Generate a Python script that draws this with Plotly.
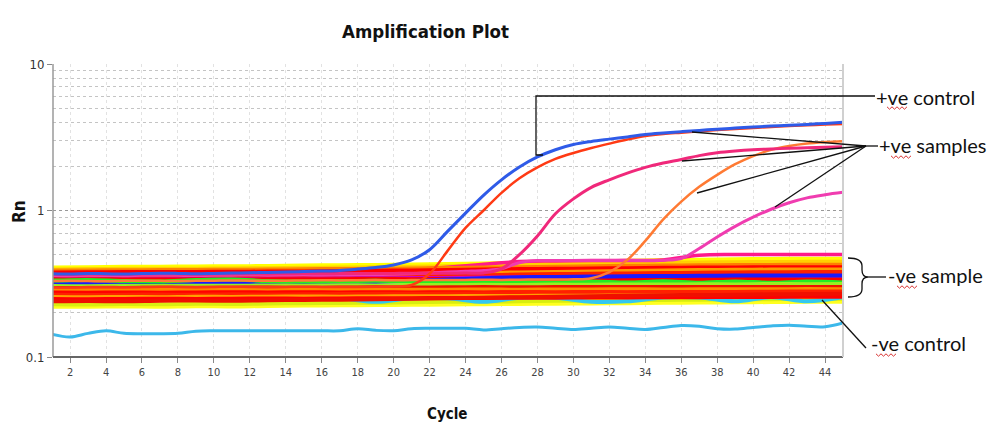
import plotly.graph_objects as go

# ---------------- data ----------------
cycles = list(range(1, 46))
cycles_odd = list(range(1, 46, 2))

x_tick_vals = list(range(2, 45, 2))
y_tick_vals = [0.1, 1, 10]
y_tick_text = ["0.1", "1", "10"]
y_minor_vals = [0.2, 0.3, 0.4, 0.5, 0.6, 0.7, 0.8, 0.9, 2, 3, 4, 5, 6, 7, 8, 9]

# negative control (light blue), one value per cycle
neg_control = [0.143, 0.137, 0.145, 0.151, 0.145, 0.144, 0.144, 0.145, 0.150, 0.151,
               0.151, 0.151, 0.151, 0.151, 0.151, 0.151, 0.151, 0.156, 0.152, 0.151,
               0.156, 0.157, 0.157, 0.157, 0.153, 0.156, 0.159, 0.160, 0.157, 0.154,
               0.157, 0.160, 0.157, 0.154, 0.159, 0.164, 0.162, 0.156, 0.155, 0.159,
               0.163, 0.165, 0.162, 0.161, 0.171]

# positive control (blue)
pos_control = [0.370, 0.368, 0.372, 0.370, 0.368, 0.371, 0.373, 0.372, 0.370, 0.372,
               0.374, 0.376, 0.378, 0.380, 0.383, 0.386, 0.390, 0.398, 0.408, 0.425,
               0.460, 0.540, 0.720, 0.960, 1.270, 1.620, 1.980, 2.320, 2.600, 2.820,
               2.960, 3.070, 3.180, 3.300, 3.380, 3.450, 3.520, 3.590, 3.650, 3.710,
               3.770, 3.820, 3.870, 3.930, 4.000]

# positive samples
pos_sample_1 = [0.300, 0.298, 0.300, 0.301, 0.299, 0.300, 0.302, 0.301, 0.300, 0.301,
                0.302, 0.301, 0.300, 0.301, 0.302, 0.301, 0.300, 0.301, 0.302, 0.303,
                0.310, 0.370, 0.530, 0.760, 1.000, 1.320, 1.660, 1.970, 2.250, 2.470,
                2.670, 2.860, 3.050, 3.220, 3.330, 3.400, 3.470, 3.540, 3.600, 3.660,
                3.720, 3.770, 3.820, 3.860, 3.900]
pos_sample_2 = [0.367, 0.366, 0.368, 0.367, 0.366, 0.368, 0.369, 0.368, 0.367, 0.368,
                0.369, 0.370, 0.369, 0.370, 0.371, 0.370, 0.371, 0.372, 0.371, 0.372,
                0.373, 0.372, 0.373, 0.374, 0.375, 0.400, 0.500, 0.670, 0.950, 1.200,
                1.440, 1.620, 1.800, 1.970, 2.110, 2.230, 2.370, 2.480, 2.550, 2.600,
                2.630, 2.660, 2.680, 2.700, 2.720]
pos_sample_3 = [0.330, 0.331, 0.330, 0.329, 0.331, 0.332, 0.331, 0.330, 0.331, 0.332,
                0.333, 0.332, 0.331, 0.332, 0.333, 0.334, 0.333, 0.334, 0.335, 0.334,
                0.335, 0.336, 0.335, 0.336, 0.337, 0.336, 0.337, 0.338, 0.338, 0.339,
                0.345, 0.380, 0.460, 0.620, 0.870, 1.150, 1.450, 1.750, 2.070, 2.350,
                2.600, 2.760, 2.870, 2.930, 2.970]
pos_sample_4 = [0.360, 0.359, 0.361, 0.360, 0.359, 0.361, 0.362, 0.361, 0.360, 0.361,
                0.362, 0.363, 0.362, 0.363, 0.364, 0.363, 0.364, 0.365, 0.366, 0.367,
                0.370, 0.375, 0.380, 0.385, 0.390, 0.400, 0.440, 0.455, 0.455, 0.456,
                0.455, 0.456, 0.457, 0.456, 0.458, 0.470, 0.550, 0.660, 0.780, 0.900,
                1.020, 1.130, 1.220, 1.280, 1.330]

# negative samples, one value per odd cycle (1, 3, ..., 45)
neg_yellow_bottom = [0.222, 0.222, 0.223, 0.222, 0.224, 0.223, 0.225, 0.226, 0.227, 0.228, 0.229, 0.230,
                     0.231, 0.232, 0.233, 0.234, 0.235, 0.236, 0.237, 0.238, 0.239, 0.240, 0.240]
neg_yellowgreen = [0.229, 0.228, 0.230, 0.229, 0.231, 0.230, 0.232, 0.233, 0.234, 0.235, 0.236, 0.238,
                   0.239, 0.240, 0.242, 0.243, 0.244, 0.245, 0.246, 0.247, 0.248, 0.249, 0.250]
neg_cyan = [0.252, 0.252, 0.252, 0.252, 0.252, 0.252, 0.252, 0.252, 0.252, 0.238, 0.252, 0.252,
            0.238, 0.254, 0.254, 0.238, 0.240, 0.255, 0.255, 0.240, 0.256, 0.240, 0.256]
neg_yellow_top = [0.405, 0.407, 0.410, 0.410, 0.412, 0.413, 0.415, 0.418, 0.420, 0.421, 0.424, 0.428,
                  0.432, 0.436, 0.440, 0.445, 0.450, 0.455, 0.458, 0.461, 0.463, 0.465, 0.465]
neg_gold = [0.396, 0.398, 0.400, 0.400, 0.401, 0.402, 0.404, 0.406, 0.408, 0.410, 0.413, 0.416,
            0.420, 0.424, 0.428, 0.432, 0.436, 0.440, 0.442, 0.444, 0.445, 0.446, 0.446]
neg_magenta = [0.367, 0.366, 0.368, 0.370, 0.369, 0.370, 0.372, 0.375, 0.380, 0.386, 0.395, 0.410,
               0.430, 0.448, 0.452, 0.455, 0.456, 0.460, 0.495, 0.500, 0.500, 0.500, 0.500]
neg_orange_a = [0.390, 0.390, 0.391, 0.392, 0.393, 0.394, 0.395, 0.397, 0.399, 0.400, 0.402, 0.405,
                0.408, 0.410, 0.413, 0.416, 0.419, 0.421, 0.423, 0.424, 0.425, 0.426, 0.426]
neg_red_a = [0.378, 0.379, 0.380, 0.380, 0.381, 0.382, 0.383, 0.384, 0.386, 0.388, 0.390, 0.392,
             0.395, 0.398, 0.400, 0.402, 0.404, 0.406, 0.408, 0.409, 0.410, 0.410, 0.410]
neg_white = [0.356, 0.357, 0.357, 0.356, 0.355, 0.357, 0.358, 0.357, 0.356, 0.357, 0.358, 0.360,
             0.362, 0.363, 0.364, 0.365, 0.366, 0.368, 0.370, 0.371, 0.372, 0.372, 0.372]
neg_orange_b = [0.350, 0.351, 0.352, 0.352, 0.353, 0.355, 0.357, 0.360, 0.362, 0.365, 0.368, 0.372,
                0.375, 0.378, 0.381, 0.384, 0.387, 0.390, 0.392, 0.394, 0.395, 0.395, 0.395]
neg_red_b = [0.345, 0.344, 0.345, 0.346, 0.347, 0.348, 0.350, 0.352, 0.354, 0.356, 0.358, 0.360,
             0.362, 0.365, 0.368, 0.370, 0.372, 0.374, 0.376, 0.378, 0.379, 0.380, 0.380]
neg_purple = [0.340, 0.339, 0.340, 0.341, 0.342, 0.342, 0.343, 0.344, 0.345, 0.346, 0.347, 0.348,
              0.350, 0.351, 0.352, 0.353, 0.354, 0.355, 0.355, 0.356, 0.356, 0.357, 0.357]
neg_red_c = [0.338, 0.337, 0.338, 0.338, 0.339, 0.338, 0.339, 0.340, 0.340, 0.341, 0.340, 0.341,
             0.340, 0.341, 0.340, 0.341, 0.340, 0.340, 0.340, 0.341, 0.340, 0.340, 0.340]
neg_blue = [0.318, 0.316, 0.320, 0.315, 0.318, 0.322, 0.318, 0.316, 0.320, 0.325, 0.330, 0.338,
            0.345, 0.350, 0.352, 0.354, 0.356, 0.357, 0.358, 0.360, 0.360, 0.360, 0.360]
neg_green = [0.332, 0.336, 0.330, 0.328, 0.335, 0.338, 0.330, 0.327, 0.330, 0.332, 0.328, 0.326,
             0.330, 0.325, 0.322, 0.328, 0.322, 0.329, 0.321, 0.328, 0.321, 0.327, 0.322]
neg_lime = [0.305, 0.304, 0.306, 0.305, 0.307, 0.306, 0.308, 0.307, 0.309, 0.308, 0.310, 0.309,
            0.311, 0.310, 0.312, 0.311, 0.313, 0.312, 0.314, 0.313, 0.315, 0.314, 0.315]
neg_red_d = [0.296, 0.295, 0.296, 0.297, 0.296, 0.297, 0.298, 0.297, 0.298, 0.299, 0.298, 0.299,
             0.300, 0.299, 0.300, 0.300, 0.301, 0.300, 0.301, 0.300, 0.301, 0.300, 0.301]
neg_orange_c = [0.286, 0.285, 0.286, 0.287, 0.286, 0.287, 0.286, 0.287, 0.288, 0.287, 0.288, 0.288,
                0.289, 0.288, 0.289, 0.289, 0.290, 0.289, 0.290, 0.290, 0.290, 0.291, 0.290]
neg_red_e = [0.276, 0.275, 0.276, 0.275, 0.276, 0.277, 0.276, 0.277, 0.276, 0.277, 0.276, 0.277,
             0.276, 0.277, 0.276, 0.277, 0.276, 0.277, 0.276, 0.277, 0.276, 0.277, 0.276]
neg_red_f = [0.266, 0.265, 0.266, 0.267, 0.266, 0.268, 0.267, 0.268, 0.269, 0.270, 0.270, 0.271,
             0.272, 0.273, 0.274, 0.275, 0.276, 0.277, 0.278, 0.278, 0.279, 0.280, 0.280]
neg_orange_d = [0.257, 0.256, 0.257, 0.256, 0.258, 0.257, 0.258, 0.259, 0.258, 0.259, 0.260, 0.260,
                0.261, 0.261, 0.262, 0.262, 0.263, 0.263, 0.264, 0.264, 0.265, 0.265, 0.265]
neg_red_g = [0.249, 0.248, 0.249, 0.250, 0.249, 0.250, 0.251, 0.250, 0.251, 0.252, 0.252, 0.253,
             0.253, 0.254, 0.254, 0.255, 0.255, 0.256, 0.256, 0.257, 0.257, 0.258, 0.258]
neg_red_h = [0.240, 0.241, 0.240, 0.242, 0.243, 0.242, 0.244, 0.245, 0.246, 0.248, 0.250, 0.252,
             0.254, 0.256, 0.258, 0.260, 0.262, 0.264, 0.265, 0.266, 0.268, 0.269, 0.270]

# ---------------- figure ----------------
NARROW = "Liberation Sans Narrow, DejaVu Sans Condensed, Roboto Condensed, Roboto, sans-serif"
LABEL_FONT = "Lato, Open Sans, sans-serif"

fig = go.Figure()

def add_line(x, y, color, width):
    fig.add_trace(go.Scatter(x=x, y=y, mode="lines", line=dict(color=color, width=width, shape="spline"),
                             hoverinfo="skip", showlegend=False))

neg_traces = [
    (neg_yellow_bottom, "#ffff20", 5),
    (neg_yellowgreen, "#d8ee10", 4),
    (neg_cyan, "#33c8f0", 4),
    (neg_yellow_top, "#ffff00", 5),
    (neg_gold, "#ffd000", 4),
    (neg_magenta, "#ff1a8c", 3.5),
    (neg_orange_a, "#ff7f00", 4),
    (neg_red_a, "#ff0000", 4),
    (neg_white, "#ffffff", 2.5),
    (neg_orange_b, "#ff9900", 4),
    (neg_red_b, "#ff2200", 4),
    (neg_purple, "#cc00cc", 3.5),
    (neg_red_c, "#ff0000", 4),
    (neg_blue, "#1a1aff", 4),
    (neg_green, "#22ee22", 4),
    (neg_lime, "#99ee22", 4),
    (neg_red_d, "#ee1100", 4),
    (neg_orange_c, "#ff8800", 4),
    (neg_red_e, "#ff0000", 4),
    (neg_red_f, "#ff2000", 4),
    (neg_orange_d, "#ffa000", 4),
    (neg_red_g, "#ff0000", 4),
    (neg_red_h, "#f01000", 4),
]
for vals, col, w in neg_traces:
    add_line(cycles_odd, vals, col, w)

add_line(cycles, neg_control, "#3cb8ea", 3)
add_line(cycles, pos_sample_4, "#f03cb0", 3)
add_line(cycles, pos_sample_3, "#ff7a33", 2.5)
add_line(cycles, pos_sample_2, "#f0287a", 3)
add_line(cycles, pos_sample_1, "#ff3a14", 2.5)
add_line(cycles, pos_control, "#2f5be8", 3)

# page-pixel -> paper helpers (page body has an 8px margin)
OFF = 8
FIG_W, FIG_H = 996 - OFF, 430 - OFF
L, R, T, B = 53, 843, 64, 357          # plot area in page pixels
W, H = R - L, B - T
def px(x):
    return (x - L) / W
def py(y):
    return (B - y) / H

shapes = []
def seg(points, color="#111111", width=1.3):
    d = "M " + " L ".join(f"{px(a):.5f},{py(b):.5f}" for a, b in points)
    shapes.append(dict(type="path", path=d, xref="paper", yref="paper",
                       line=dict(color=color, width=width), layer="above"))

# plot frame
seg([(L, T), (L, B)], "#9a9a9a", 1.5)
seg([(L, B), (R, B)], "#666666", 2)
seg([(R, T), (R, B)], "#d0d0d0", 2)

# +ve control pointer
seg([(543, 155), (536, 155), (536, 96), (875, 96)])
# +ve samples fan
hub = (866, 146)
for tip in [(692, 132), (682, 161), (697, 193), (775, 207)]:
    seg([tip, hub])
seg([hub, (878, 146)])
# -ve sample brace
brace = (f"M {px(848):.5f},{py(258):.5f} "
         f"Q {px(862):.5f},{py(258):.5f} {px(862):.5f},{py(266):.5f} "
         f"L {px(862):.5f},{py(270):.5f} "
         f"Q {px(862):.5f},{py(277):.5f} {px(868):.5f},{py(277):.5f} "
         f"Q {px(862):.5f},{py(277):.5f} {px(862):.5f},{py(284):.5f} "
         f"L {px(862):.5f},{py(289):.5f} "
         f"Q {px(862):.5f},{py(297):.5f} {px(848):.5f},{py(297):.5f}")
shapes.append(dict(type="path", path=brace, xref="paper", yref="paper",
                   line=dict(color="#111111", width=1.3), layer="above"))
seg([(868, 277), (886, 277)])
# -ve control pointer
seg([(822, 300), (866, 348)])

# red spell-check squiggles under "ve"
def squiggle(x0, x1, y):
    pts = []
    x = x0
    k = 0
    while x <= x1:
        pts.append((x, y + (1.2 if k % 2 else -1.2)))
        x += 2.5
        k += 1
    seg(pts, "#d83030", 1)
squiggle(887, 908, 108)
squiggle(891, 913, 157)
squiggle(897, 918, 287)
squiggle(876, 897, 355)

def label(text, x, y, size, family, xanchor="center", angle=0):
    return dict(text=text, x=px(x), y=py(y), xref="paper", yref="paper",
                xanchor=xanchor, yanchor="middle", textangle=angle, showarrow=False,
                font=dict(family=family, size=size, color="#111111"))

annotations = [
    label("<b>Amplification Plot</b>", 425, 32, 18.5, NARROW),
    label("<b>Cycle</b>", 447, 414, 15, NARROW),
    label("<b>Rn</b>", 19, 212, 17, NARROW, angle=-90),
    label("+ve control", 874, 97, 20, LABEL_FONT, "left"),
    label("+ve samples", 877, 145, 20, LABEL_FONT, "left"),
    label("-ve sample", 886, 275, 20, LABEL_FONT, "left"),
    label("-ve control", 869, 343, 20, LABEL_FONT, "left"),
]

fig.update_layout(
    width=FIG_W, height=FIG_H,
    margin=dict(l=L - OFF, r=996 - R, t=T - OFF, b=430 - B, pad=0, autoexpand=False),
    paper_bgcolor="white", plot_bgcolor="white",
    shapes=shapes, annotations=annotations,
    showlegend=False,
    xaxis=dict(range=[1.05, 45.0], tickvals=x_tick_vals, ticks="outside", ticklen=5,
               tickcolor="#888888", showline=False, zeroline=False,
               showgrid=True, gridcolor="#e2e2e2", griddash="dot", gridwidth=1,
               tickfont=dict(family=NARROW, size=11, color="#444444")),
    yaxis=dict(type="log", range=[-1, 1], tickvals=y_tick_vals, ticktext=y_tick_text,
               ticks="outside", ticklen=5, tickcolor="#888888", showline=False, zeroline=False,
               showgrid=True, gridcolor="#999999", griddash="dot", gridwidth=1,
               tickfont=dict(family=NARROW, size=13, color="#333333"),
               minor=dict(tickvals=y_minor_vals, showgrid=True, gridcolor="#c4c4c4",
                          griddash="dot", gridwidth=1, ticks="")),
)

fig.write_html("out.html")
